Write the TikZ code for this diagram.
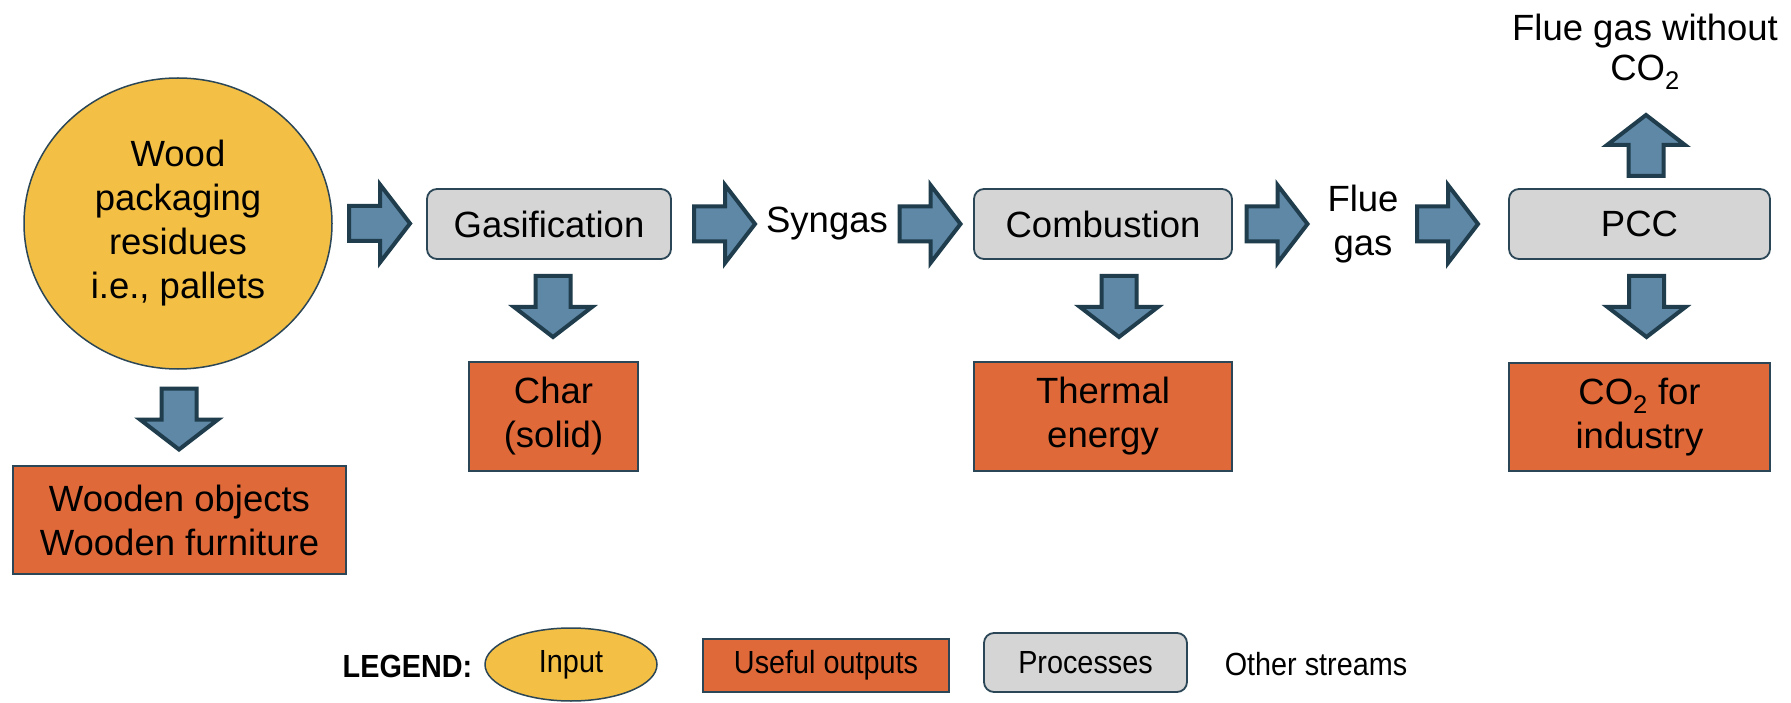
\documentclass[tikz,border=0pt]{standalone}
\usepackage{fontspec}
\usepackage{graphicx}
\setmainfont{Liberation Sans}
\usetikzlibrary{shapes.geometric}
\definecolor{inputc}{HTML}{F3BF45}
\definecolor{outc}{HTML}{E0693A}
\definecolor{procc}{HTML}{D5D5D5}
\definecolor{arrfill}{HTML}{5F88A7}
\definecolor{arrline}{HTML}{1F3D4C}
\definecolor{boxline}{HTML}{2B4656}
\newcommand\mainfs{\fontsize{36.5}{44}\selectfont}
\newcommand\legfs{\fontsize{32}{36}\selectfont}
\begin{document}
\begin{tikzpicture}[x=1pt,y=-1pt,
  box/.style={draw=boxline, line width=1.8pt, inner sep=0pt, align=center, font=\mainfs},
  proc/.style={box, fill=procc, rounded corners=10pt},
  outp/.style={box, fill=outc},
  inp/.style={ellipse, draw=boxline, line width=1.5pt, fill=inputc, inner sep=0pt, align=center, font=\mainfs},
  lbl/.style={align=center, font=\mainfs, inner sep=0pt},
  legtext/.style={align=center, font=\legfs, inner sep=0pt},
  barrowstyle/.style={draw=arrline, fill=arrfill, line width=4pt, line join=miter},
  barrow/.pic={\path[barrowstyle] (-31,-17.5) -- (0,-17.5) -- (0,-39) -- (30,0) -- (0,39) -- (0,17.5) -- (-31,17.5) -- cycle;}
]
\useasboundingbox (0,0) rectangle (1791,703);
\fill[white] (0,0) rectangle (1791,703);

% main nodes
\node[inp, minimum width=308pt, minimum height=291pt] (input) at (178,223.5) {Wood\\packaging\\residues\\i.e., pallets};
\node[outp, minimum width=333pt, minimum height=108pt] (wood) at (179.5,520) {Wooden objects\\Wooden furniture};
\node[proc, minimum width=244pt, minimum height=70pt] (gas) at (549,224) {Gasification};
\node[outp, minimum width=169pt, minimum height=109pt] (char) at (553.5,416.5) {Char\\(solid)};
\node[lbl] (syngas) at (827,224) {Syngas};
\node[proc, minimum width=258pt, minimum height=70pt] (comb) at (1103,224) {Combustion};
\node[outp, minimum width=258pt, minimum height=109pt] (thermal) at (1103,416.5) {Thermal\\energy};
\node[lbl] (flue) at (1363,224) {Flue\\gas};
\node[proc, minimum width=261pt, minimum height=70pt] (pcc) at (1639.5,224) {PCC};
\node[outp, minimum width=261pt, minimum height=108pt] (co2) at (1639.5,417) {CO\textsubscript{2} for\\industry};
\node[lbl, font=\fontsize{36.5}{40}\selectfont] (fluewo) at (1645,52) {Flue gas without\\CO\textsubscript{2}};

% block arrows
\pic at (380,223.5) {barrow};
\pic at (725,224) {barrow};
\pic at (930.5,224) {barrow};
\pic at (1277.5,224) {barrow};
\pic at (1448,224) {barrow};
\pic[rotate=-90] at (179,419.5) {barrow};
\pic[rotate=-90] at (553,307) {barrow};
\pic[rotate=-90] at (1119,307) {barrow};
\pic[rotate=-90] at (1646.5,307) {barrow};
\pic[rotate=90] at (1646,145) {barrow};

% legend
\node[legtext, font=\legfs\bfseries] (legend) at (407.5,666) {\scalebox{0.9}[1]{LEGEND:}};
\node[ellipse, draw=boxline, line width=1.5pt, fill=inputc, inner sep=0pt, minimum width=172pt, minimum height=73pt, font=\legfs] (linput) at (571,664.5) {\scalebox{0.9}[1]{Input}};
\node[outp, font=\legfs, minimum width=246pt, minimum height=53pt] (lout) at (826,665.5) {\scalebox{0.9}[1]{Useful outputs}};
\node[proc, font=\legfs, minimum width=203pt, minimum height=59pt] (lproc) at (1085.5,662.5) {\scalebox{0.9}[1]{Processes}};
\node[legtext] (lother) at (1316,664) {\scalebox{0.9}[1]{Other streams}};
\end{tikzpicture}
\end{document}
